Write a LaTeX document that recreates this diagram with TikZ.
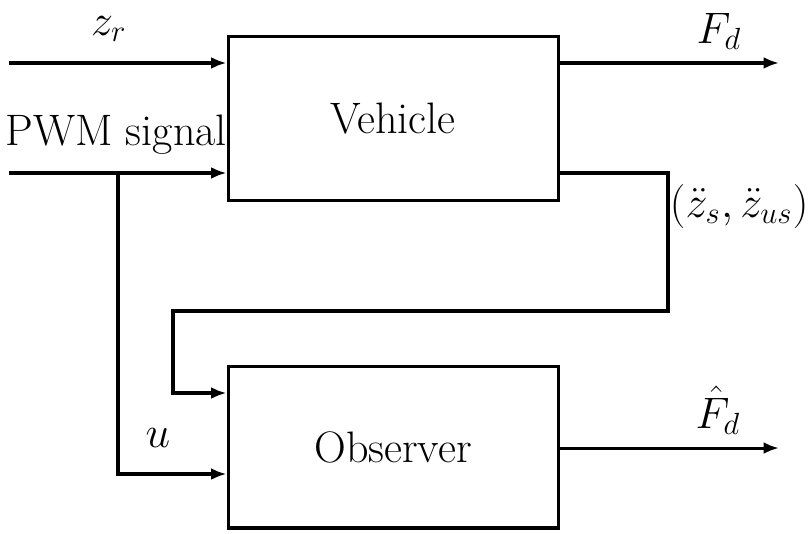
\documentclass[tikz,border=0pt]{standalone}
\usepackage{amsmath}
\usepackage{tikz}
\usetikzlibrary{arrows.meta, positioning, calc}
\tikzset{
  block/.style={rectangle, draw, very thick, minimum width=4.547cm, minimum height=2.27cm, inner sep=0pt},
  sig/.style={-{Latex[length=6pt, width=4.6pt]}, very thick},
  lbl/.style={inner sep=0pt, anchor=base},
}
\begin{document}
\begin{tikzpicture}[font=\LARGE]
  \useasboundingbox (0,0) rectangle (11.134,7.345);
  % blocks
  \node[block, label={[lbl]center:Vehicle}] (veh) at (5.416,5.712) {};
  \node[block, minimum height=2.232cm, label={[lbl]center:Observer}] (obs) at (5.416,1.185) {};
  % free ends and bends
  \coordinate (zin) at (0.124,6.477);
  \coordinate (pwmin) at (0.124,4.961);
  \coordinate (fdout) at (10.735,6.477);
  \coordinate (fhout) at (10.735,1.171);
  \coordinate (br) at (1.626,4.961);
  \coordinate (fbr) at (9.205,4.961);
  \coordinate (fbl) at (2.384,3.059);
  \coordinate (uin) at (1.626,0.813);
  \coordinate (fbin) at (2.384,1.929);
  % connectors
  \draw[sig] (zin) -- (zin -| veh.west);
  \draw[sig] (pwmin) -- (pwmin -| veh.west);
  \draw[sig] (br) -- (uin) -- (uin -| obs.west);
  \draw[sig] (veh.east |- zin) -- (fdout);
  \draw[sig] (veh.east |- fbr) -- (fbr) |- (fbl) -- (fbin) -- (fbin -| obs.west);
  \draw[sig] (obs.east |- fhout) -- (fhout);
  % labels
  \node[lbl] (zr) at (1.50,6.86) {$z_r$};
  \node[lbl] (pwm) at (1.60,5.333) {PWM signal};
  \node[lbl] (fd) at (9.908,6.752) {$F_d$};
  \node[lbl, anchor=base west] (acc) at (9.225,4.354) {$(\ddot{z}_s,\ddot{z}_{us})$};
  \node[lbl] (fh) at (9.894,1.447) {$\hat{F}_d$};
  \node[lbl] (u) at (2.177,1.185) {$u$};
\end{tikzpicture}
\end{document}
